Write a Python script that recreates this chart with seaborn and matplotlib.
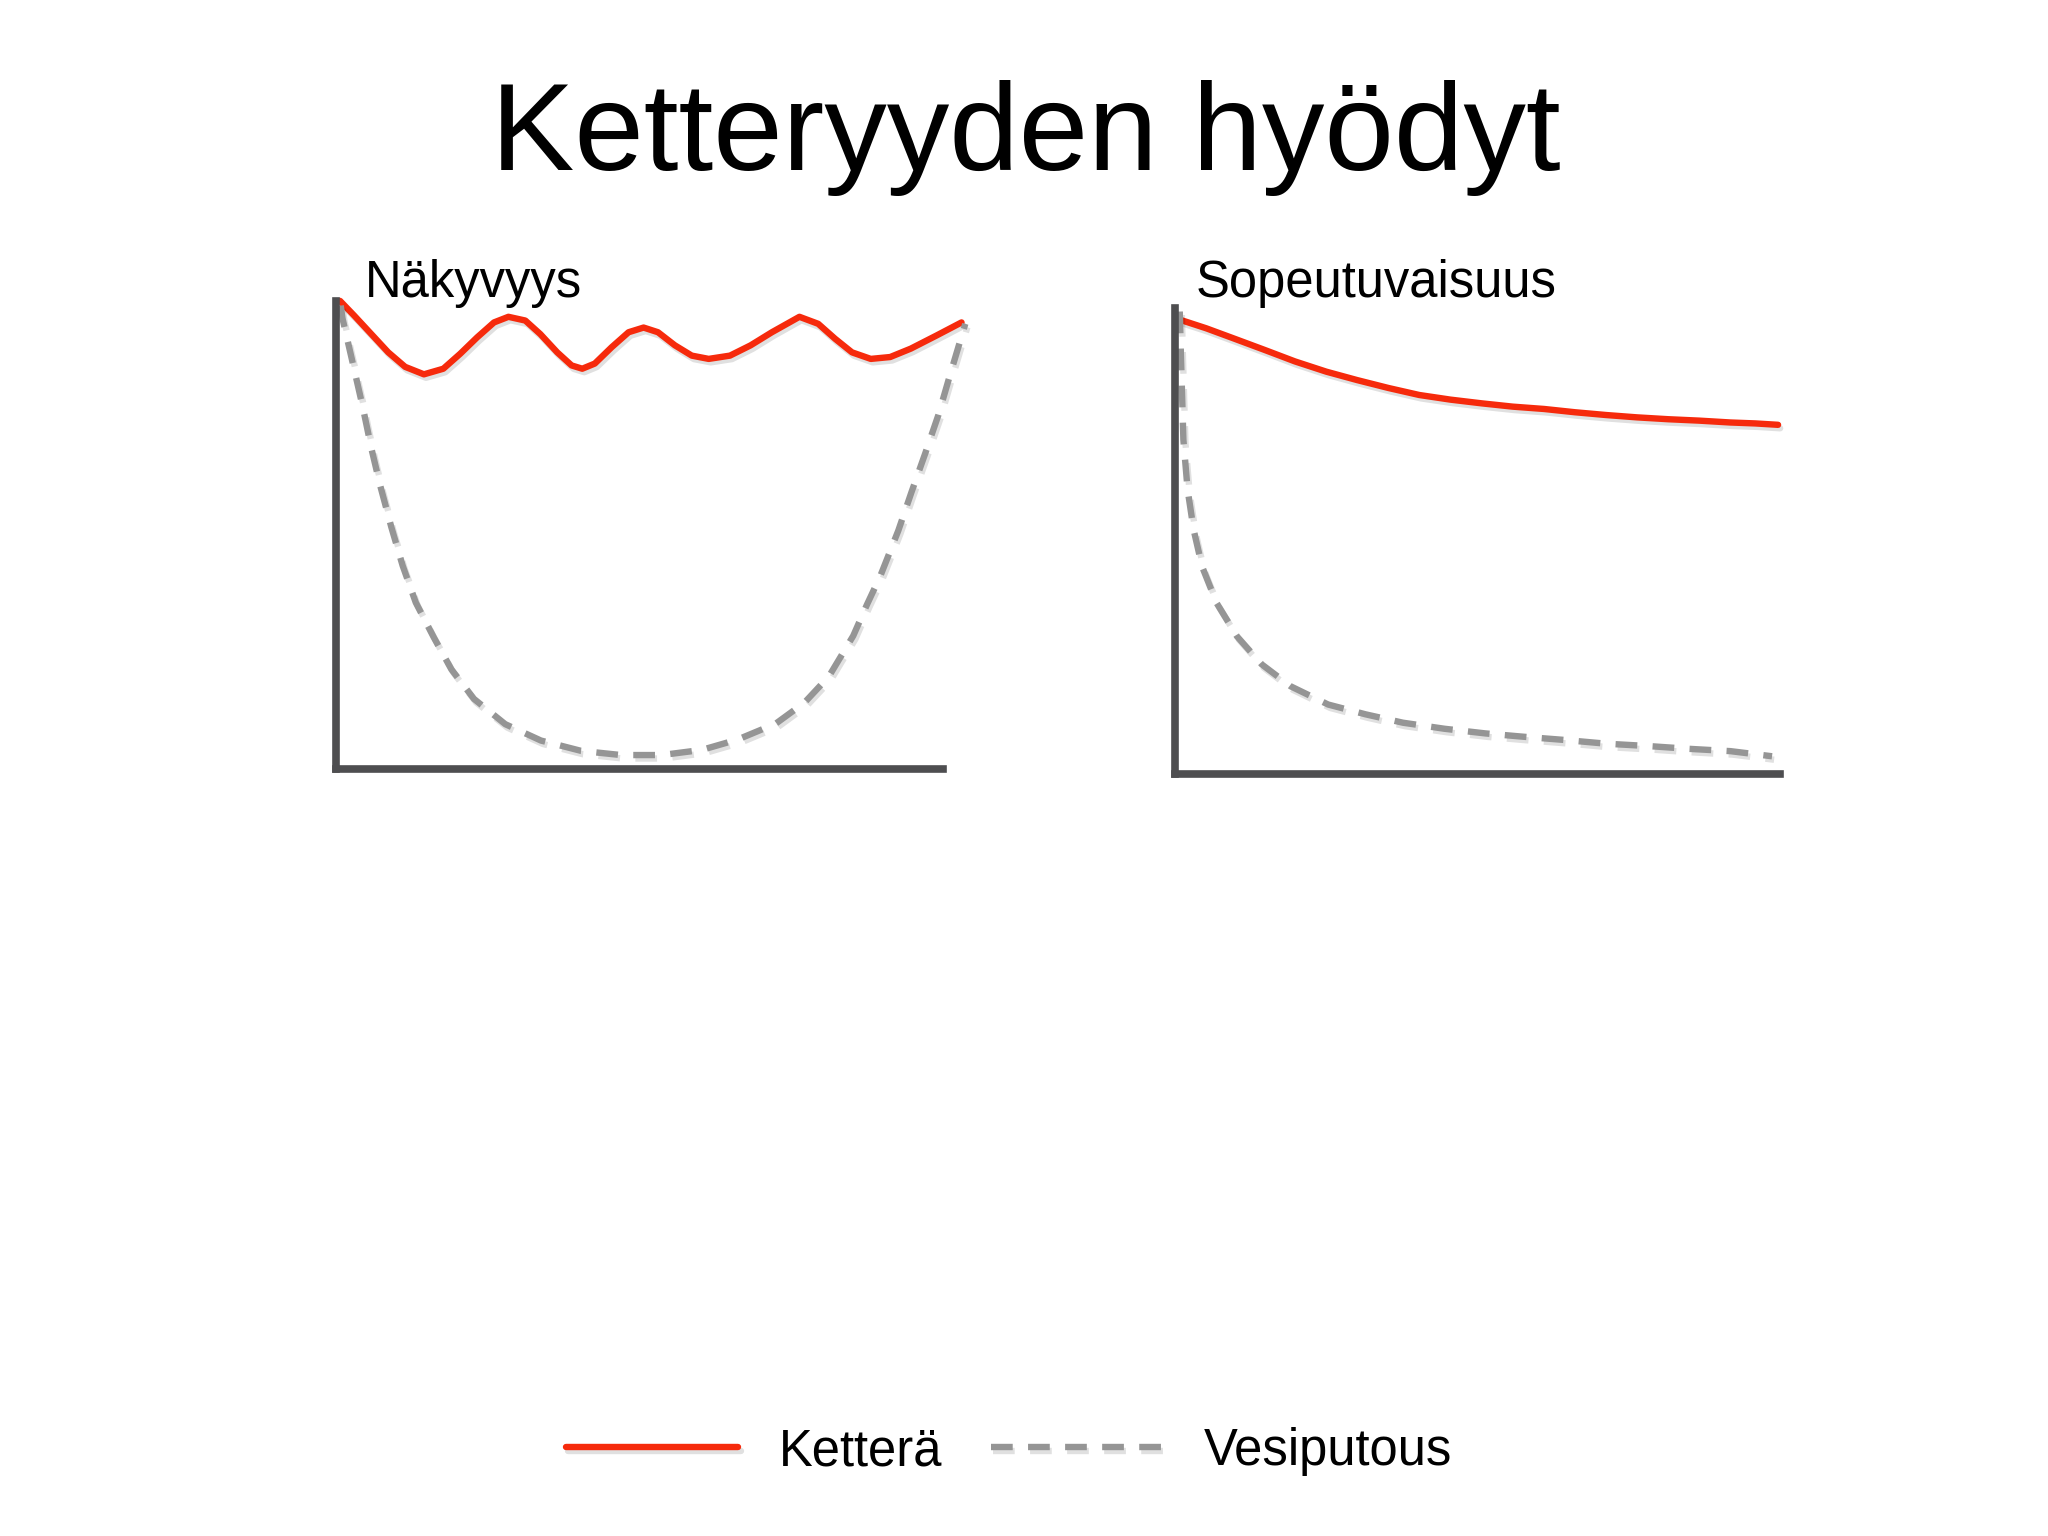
import pandas as pd
import matplotlib
matplotlib.use('Agg')
import matplotlib.pyplot as plt
import matplotlib.patheffects as pe
import seaborn as sns

# Tiedot luettu kuvasta (x ja y asteikolla 0-100)
series_names = ['Ketterä', 'Vesiputous']

# Näkyvyys
vis_agile_x = [0.7, 3.0, 5.7, 8.4, 11.1, 14.1, 17.2, 19.9, 22.6, 25.3, 27.6, 30.3, 32.7, 35.4,
               37.7, 39.4, 41.4, 44.1, 46.8, 49.2, 51.5, 54.2, 56.9, 59.6, 63.0, 66.3, 69.7,
               74.1, 77.1, 79.8, 82.5, 85.5, 88.6, 91.9, 96.0, 100.0]
vis_agile_y = [100.0, 96.8, 92.9, 89.0, 85.9, 84.3, 85.5, 88.7, 92.2, 95.4, 96.6, 95.8, 92.9, 89.0,
               86.2, 85.5, 86.6, 90.1, 93.3, 94.3, 93.3, 90.5, 88.3, 87.6, 88.3, 90.5, 93.3,
               96.6, 95.1, 91.9, 89.0, 87.6, 88.0, 89.8, 92.6, 95.4]
vis_wf_x = [0.8, 1.1, 2.9, 4.3, 5.7, 7.1, 8.9, 10.7, 12.8, 15.7, 18.5, 22.1, 27.1, 32.8, 39.2, 45.6,
            52.1, 58.5, 64.2, 70.3, 74.9, 78.8, 82.7, 84.9, 87.0, 89.9, 92.0, 94.2, 96.3, 98.1, 100.6]
vis_wf_y = [99.0, 96.2, 85.7, 77.5, 68.5, 60.6, 51.6, 43.4, 35.5, 28.0, 21.2, 14.9, 9.5, 6.0, 3.8, 2.9,
            2.9, 4.0, 6.2, 9.6, 14.1, 19.7, 28.4, 35.1, 41.1, 50.9, 59.1, 67.4, 75.6, 83.9, 95.1]

# Sopeutuvaisuus
ada_agile_x = [0.7, 5.2, 9.6, 14.8, 19.9, 25.1, 30.2, 35.4, 40.5, 45.7, 50.9, 56.0, 61.2, 66.3,
               71.5, 76.6, 81.8, 86.9, 92.1, 96.2, 100.0]
ada_agile_y = [97.6, 95.7, 93.6, 91.1, 88.6, 86.4, 84.6, 82.9, 81.4, 80.4, 79.6, 78.9, 78.4, 77.7,
               77.1, 76.6, 76.2, 75.9, 75.5, 75.3, 75.0]
ada_wf_x = [0.8, 1.0, 1.4, 2.1, 3.1, 4.5, 6.9, 10.3, 14.4, 19.2, 25.4, 31.6, 37.8, 44.7, 51.5,
            57.7, 64.6, 71.5, 78.4, 85.2, 92.1, 99.0]
ada_wf_y = [99.3, 89.6, 71.8, 61.1, 52.5, 44.6, 36.8, 29.6, 23.6, 18.9, 15.0, 12.9, 11.1, 9.8, 8.8,
            8.1, 7.4, 6.6, 6.1, 5.5, 5.0, 3.9]

panel_titles = ['Näkyvyys', 'Sopeutuvaisuus']
main_title = 'Ketteryyden hyödyt'

RED = '#f62a0c'
GRAY = '#959595'
AXIS = '#4e4e50'


def long_df(ax_, ay_, wx_, wy_):
    a = pd.DataFrame({'x': ax_, 'y': ay_, 'sarja': series_names[0]})
    w = pd.DataFrame({'x': wx_, 'y': wy_, 'sarja': series_names[1]})
    return pd.concat([a, w], ignore_index=True)


panels = [
    long_df(vis_agile_x, vis_agile_y, vis_wf_x, vis_wf_y),
    long_df(ada_agile_x, ada_agile_y, ada_wf_x, ada_wf_y),
]

sns.set_style('white')
plt.rcParams['font.family'] = ['Liberation Sans', 'DejaVu Sans']
plt.rcParams['text.color'] = 'black'

fig = plt.figure(figsize=(20.48, 15.36), dpi=100)
fig.patch.set_facecolor('white')

rects = [[0.1639, 0.4996, 0.3056, 0.3045], [0.5737, 0.4958, 0.2945, 0.3035]]
xaxis_end = [97.0, 100.3]
shadow = [pe.SimpleLineShadow(offset=(1.5, -2.5), alpha=0.12, shadow_color='black'), pe.Normal()]

axes = []
for i, df in enumerate(panels):
    ax = fig.add_axes(rects[i])
    sns.lineplot(data=df, x='x', y='y', hue='sarja', style='sarja',
                 palette={series_names[0]: RED, series_names[1]: GRAY},
                 dashes={series_names[0]: '', series_names[1]: (3.4, 2.4)},
                 estimator=None, sort=False, linewidth=4.6, ax=ax)
    for ln in ax.lines:
        ln.set_clip_on(False)
        ln.set_solid_joinstyle('round')
        ln.set_dash_joinstyle('round')
        ln.set_path_effects(shadow)
    ax.set_xlim(0, 100)
    ax.set_ylim(0, 100)
    ax.set_xticks([])
    ax.set_yticks([])
    ax.set_xlabel('')
    ax.set_ylabel('')
    ax.patch.set_alpha(0)
    for side in ['top', 'right']:
        ax.spines[side].set_visible(False)
    for side in ['left', 'bottom']:
        ax.spines[side].set_color(AXIS)
        ax.spines[side].set_linewidth(5.5)
        ax.spines[side].set_capstyle('projecting')
    ax.spines['bottom'].set_bounds(0, xaxis_end[i])
    ax.spines['left'].set_bounds(0, 100)
    if ax.get_legend() is not None:
        ax.get_legend().remove()
    axes.append(ax)

# otsikot
fig.text(0.501, 0.889, main_title, fontsize=90, ha='center', va='baseline', color='black')
fig.text(0.178, 0.8064, panel_titles[0], fontsize=36.5, ha='left', va='baseline', color='black')
fig.text(0.584, 0.8064, panel_titles[1], fontsize=36.5, ha='left', va='baseline', color='black')

# selite
handles = axes[0].lines[:2]
leg = fig.legend(handles, series_names, loc='center', bbox_to_anchor=(0.4927, 0.055),
                 ncol=2, frameon=False, fontsize=36.5, handlelength=3.4,
                 handletextpad=0.8, columnspacing=0.95, labelcolor='black')

fig.savefig('out.png', dpi=100, facecolor='white')
